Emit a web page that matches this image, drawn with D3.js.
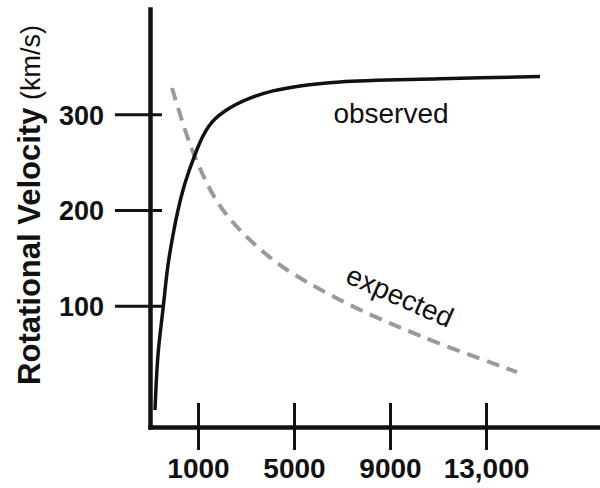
<!DOCTYPE html>
<html>
<head>
<meta charset="utf-8">
<script src="https://cdn.jsdelivr.net/npm/d3@7"></script>
<style>
  body { margin: 0; background: #fff; }
  text { font-family: "Liberation Sans", Arial, sans-serif; fill: #111; }
</style>
</head>
<body>
<div id="chart"></div>
<script>
const width = 600;
const height = 488;

// radius values (x) and velocities (y)
const observedX = [-792, -667, -458, -250, -42, 167, 375, 583, 792, 1000, 1208, 1458, 1708, 2125, 2542, 3167, 4125, 5250, 6917, 11083, 15250];
const observedY = [-9, 48.5, 96.6, 142.5, 173.9, 199.9, 220.9, 237.6, 252.2, 265.8, 277.3, 287.8, 295.1, 303.4, 309.7, 316.9, 324.4, 329.6, 333.8, 337, 339.5];

const expectedX = [-83, 875, 2042, 4125, 6917, 10375, 14292];
const expectedY = [327.5, 255.4, 200, 148, 106, 67.3, 30.7];

const xTicks = [1000, 5000, 9000, 13000];
const xTickLabels = ["1000", "5000", "9000", "13,000"];
const yTicks = [100, 200, 300];

const svg = d3.select("#chart")
    .append("svg")
    .attr("width", width)
    .attr("height", height);

const x = d3.scaleLinear().domain([-1000, 17750]).range([150, 600]);
const y = d3.scaleLinear().domain([-26.75, 410]).range([427, 9]);

/* ------------------------
   AXES
-------------------------*/
const yAxis = svg.append("g")
    .attr("transform", "translate(150,0)")
    .call(d3.axisLeft(y).tickValues(yTicks).tickSizeOuter(0).tickPadding(0));

yAxis.select(".domain")
    .attr("stroke", "#111")
    .attr("stroke-width", 4.5)
    .attr("stroke-linecap", "square");

yAxis.selectAll(".tick line")
    .attr("x1", -35)
    .attr("x2", 12)
    .attr("stroke", "#111")
    .attr("stroke-width", 3);

yAxis.selectAll(".tick text")
    .attr("x", -46)
    .attr("dy", "0.36em")
    .style("font-size", "27px")
    .style("font-weight", "bold")
    .attr("fill", "#111");

const xAxis = svg.append("g")
    .attr("transform", "translate(0,427)")
    .call(d3.axisBottom(x).tickValues(xTicks).tickSizeOuter(0)
        .tickFormat((d, i) => xTickLabels[i]));

xAxis.select(".domain")
    .attr("stroke", "#111")
    .attr("stroke-width", 4.5)
    .attr("stroke-linecap", "square");

xAxis.selectAll(".tick line")
    .attr("y1", -24)
    .attr("y2", 23)
    .attr("stroke", "#111")
    .attr("stroke-width", 3);

xAxis.selectAll(".tick text")
    .attr("y", 51)
    .attr("dy", 0)
    .style("font-size", "28px")
    .style("font-weight", "bold")
    .attr("fill", "#111");

// axis title
const title = svg.append("text")
    .attr("transform", "translate(40,205) rotate(-90)")
    .attr("text-anchor", "middle");
title.append("tspan")
    .style("font-size", "31px")
    .style("font-weight", "bold")
    .text("Rotational Velocity");
title.append("tspan")
    .style("font-size", "27px")
    .text(" (km/s)");

/* ------------------------
   CURVES
-------------------------*/
const line = d3.line()
    .x(d => x(d[0]))
    .y(d => y(d[1]))
    .curve(d3.curveCatmullRom.alpha(0.5));

svg.append("path")
    .datum(expectedX.map((v, i) => [v, expectedY[i]]))
    .attr("d", line)
    .attr("fill", "none")
    .attr("stroke", "#9a9a9a")
    .attr("stroke-width", 4)
    .attr("stroke-dasharray", "13,8");

svg.append("path")
    .datum(observedX.map((v, i) => [v, observedY[i]]))
    .attr("d", line)
    .attr("fill", "none")
    .attr("stroke", "#111")
    .attr("stroke-width", 3.5);

// curve labels
svg.append("text")
    .attr("x", 391)
    .attr("y", 123)
    .attr("text-anchor", "middle")
    .style("font-size", "28px")
    .text("observed");

svg.append("text")
    .attr("transform", "translate(396,305) rotate(24)")
    .attr("text-anchor", "middle")
    .style("font-size", "28px")
    .text("expected");
</script>
</body>
</html>
